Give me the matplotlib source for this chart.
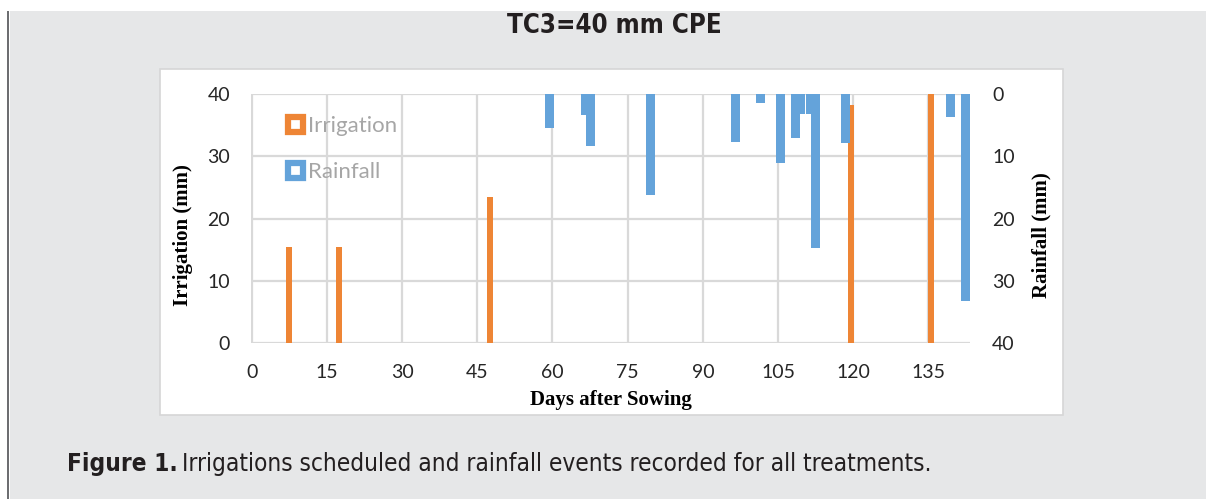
import numpy as np
import matplotlib
matplotlib.use("Agg")
from matplotlib import pyplot as plt
from matplotlib.patches import Rectangle, Patch

# irrigation events (day after sowing, mm)
irr_day = [7, 17, 47, 119, 135]
irr_mm = [15.4, 15.4, 23.4, 38.3, 40.0]

# rainfall events (day after sowing, mm)
rain_day = [59, 66, 67, 79, 96, 101, 105, 108, 109, 111, 112, 118, 139, 142]
rain_mm = [5.4, 3.4, 8.4, 16.3, 7.7, 1.5, 11.1, 7.1, 3.2, 3.2, 24.8, 7.8, 3.7, 33.2]

x_ticks = [0, 15, 30, 45, 60, 75, 90, 105, 120, 135]
y_ticks = [0, 10, 20, 30, 40]

orange = '#ee8535'
blue = '#64a3da'
grid_c = '#d9d9d9'
W, H = 1206, 499

fig = plt.figure(figsize=(W / 100, H / 100), dpi=100)
fig.patch.set_facecolor('white')

# page background, dark left rule and white chart box
fig.patches.append(Rectangle((9.5 / W, 0), 1, 1 - 11 / H, transform=fig.transFigure,
                             facecolor='#e6e7e8', edgecolor='none', zorder=-3))
fig.patches.append(Rectangle((7 / W, 0), 2.5 / W, 1 - 11 / H, transform=fig.transFigure,
                             facecolor='#6d6e71', edgecolor='none', zorder=-2))
fig.patches.append(Rectangle((160 / W, 1 - 415 / H), 903 / W, 346 / H, transform=fig.transFigure,
                             facecolor='white', edgecolor='#d6d6d6', lw=1.2, zorder=-1))

ax = fig.add_axes([251 / W, 1 - 343 / H, 719 / W, 249 / H])
ax.set_facecolor('none')
ax.bar(np.array(irr_day) + 0.5, irr_mm, width=1.2, color=orange, zorder=3)
ax.set_xlim(-0.15, 143.3)
ax.set_ylim(0, 40)
ax.set_xticks(x_ticks)
ax.set_yticks(y_ticks)
ax.grid(True, color=grid_c, lw=1.6)
ax.set_axisbelow(True)
for s in ax.spines.values():
    s.set_visible(False)
ax.tick_params(length=0, labelsize=14, colors='#262626')
ax.tick_params(axis='x', pad=15)
ax.tick_params(axis='y', pad=15)
for lab in ax.get_xticklabels() + ax.get_yticklabels():
    lab.set_family('Lato')

ax2 = ax.twinx()
ax2.bar(np.array(rain_day) + 0.5, rain_mm, width=1.8, color=blue, zorder=3)
ax2.set_ylim(40, 0)
ax2.set_yticks(y_ticks)
for s in ax2.spines.values():
    s.set_visible(False)
ax2.tick_params(length=0, labelsize=14, colors='#262626', pad=16)
for lab in ax2.get_yticklabels():
    lab.set_family('Lato')

serif = {'family': 'Liberation Serif', 'weight': 'bold', 'size': 15}
ax.set_xlabel('Days after Sowing', fontdict=serif, va='center')
ax.xaxis.set_label_coords(0.5, -0.229)
ax.set_ylabel('Irrigation (mm)', fontdict=serif, va='center')
ax.yaxis.set_label_coords(-0.0946, 0.435)
ax2.set_ylabel('Rainfall (mm)', fontdict=serif, va='center', rotation=90)
ax2.yaxis.set_label_coords(1.0988, 0.435)

handles = [Patch(facecolor='white', edgecolor=orange, lw=4.5, label='Irrigation'),
           Patch(facecolor='white', edgecolor=blue, lw=4.5, label='Rainfall')]
leg = ax2.legend(handles=handles, loc='upper left', bbox_to_anchor=(0.051, 0.91),
                 frameon=False, borderpad=0, borderaxespad=0, handlelength=0.68,
                 handleheight=0.68, handletextpad=0.22, labelspacing=1.15,
                 prop={'family': 'Lato', 'size': 16})
for t in leg.get_texts():
    t.set_color('#a6a6a6')

cond = dict(family='DejaVu Sans', fontstretch='condensed', color='#231f20')
fig.text(614 / W, 1 - 26 / H, 'TC3=40 mm CPE', ha='center', va='center',
         weight='bold', size=18.5, **cond)
t1 = fig.text(67 / W, 1 - 464 / H, 'Figure 1.', ha='left', va='center',
              weight='bold', size=17.5, **cond)
plt.annotate('Irrigations scheduled and rainfall events recorded for all treatments.',
             xy=(1, 0.5), xycoords=t1, xytext=(3, 0), textcoords='offset points',
             ha='left', va='center', size=17.5, annotation_clip=False, **cond)

fig.savefig('out.png', dpi=100, facecolor=fig.get_facecolor())
